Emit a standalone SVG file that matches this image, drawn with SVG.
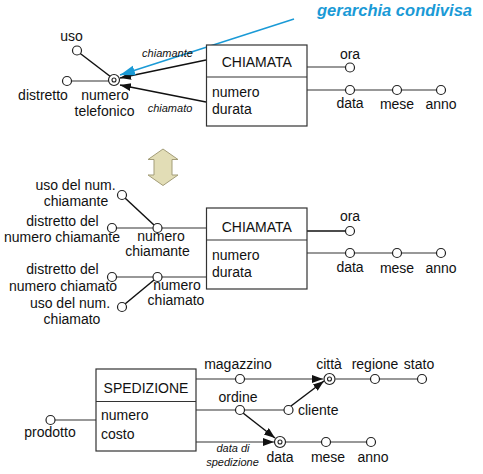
<svg xmlns="http://www.w3.org/2000/svg" width="483" height="474" viewBox="0 0 483 474">
<defs>
<marker id="ah" markerUnits="userSpaceOnUse" markerWidth="12" markerHeight="10" refX="11" refY="4" orient="auto"><path d="M0,0 L11,4 L0,8 Z" fill="#111"/></marker>
<marker id="ahb" markerUnits="userSpaceOnUse" markerWidth="16" markerHeight="12" refX="15" refY="5" orient="auto"><path d="M0,0 L15,5 L0,10 Z" fill="#1a9ad6"/></marker>
<style>
text{font-family:"Liberation Sans",Arial,sans-serif;font-size:14px;fill:#111}
.m{text-anchor:middle}
.i{font-style:italic;font-size:11px}
.b{fill:#fff;stroke:#333;stroke-width:1.2}
.l{stroke:#333;stroke-width:1.2;fill:none}
.k{stroke:#111;stroke-width:1.5;fill:none}
.c{fill:#fff;stroke:#222;stroke-width:1.2}
</style>
</defs>

<g id="connectors">
<!-- top -->
<line class="k" x1="77" y1="51" x2="111" y2="77"/>
<line class="l" x1="71.5" y1="81" x2="108.5" y2="81"/>
<line class="k" x1="206" y1="60" x2="120" y2="78" marker-end="url(#ah)"/>
<line class="k" x1="206" y1="102" x2="120" y2="85" marker-end="url(#ah)"/>
<line x1="294" y1="19" x2="120" y2="75" stroke="#1a9ad6" stroke-width="1.5" marker-end="url(#ahb)"/>
<line class="l" x1="307" y1="67" x2="345.5" y2="67"/>
<line class="l" x1="307" y1="90" x2="436.5" y2="90"/>
<!-- middle -->
<line class="k" x1="125" y1="198" x2="154" y2="225"/>
<line class="l" x1="116.5" y1="228" x2="206" y2="228"/>
<line class="l" x1="116.5" y1="277" x2="206" y2="277"/>
<line class="k" x1="125" y1="304" x2="154" y2="280"/>
<line class="k" x1="307" y1="231" x2="345.5" y2="231"/>
<line class="l" x1="307" y1="253" x2="436.5" y2="253"/>
<!-- bottom -->
<line class="l" x1="54.5" y1="420" x2="96" y2="420"/>
<line class="l" x1="196" y1="379" x2="323" y2="379" marker-end="url(#ah)"/>
<line class="l" x1="335.5" y1="379" x2="417.5" y2="379"/>
<line class="l" x1="196" y1="410" x2="284" y2="410"/>
<line class="k" x1="291" y1="406" x2="324" y2="381" marker-end="url(#ah)"/>
<line class="k" x1="243" y1="413" x2="275" y2="438" marker-end="url(#ah)"/>
<line class="l" x1="196" y1="442" x2="274" y2="442" marker-end="url(#ah)"/>
<line class="l" x1="285.5" y1="442" x2="366.5" y2="442"/>
</g>

<g id="title"><text x="317" y="16" font-weight="bold" font-style="italic" style="font-size:16.5px;fill:#1a9ad6">gerarchia condivisa</text></g>

<g id="chiamata1">
<rect class="b" x="206.5" y="45" width="100.5" height="81"/>
<line class="l" x1="206.5" y1="77" x2="307" y2="77"/>
<text class="m" x="256.8" y="67">CHIAMATA</text>
<text x="212" y="97">numero</text>
<text x="212" y="114">durata</text>
</g>
<g id="uso"><circle class="c" cx="77" cy="50.5" r="4.5"/><text class="m" x="71.5" y="41">uso</text></g>
<g id="distretto"><circle class="c" cx="67" cy="81" r="4.5"/><text class="m" x="43" y="100">distretto</text></g>
<g id="numtel"><circle class="c" cx="114" cy="80" r="5.5"/><circle cx="114" cy="80" r="2" fill="none" stroke="#222" stroke-width="1.1"/><text class="m" x="105" y="100">numero</text><text class="m" x="104.5" y="116">telefonico</text></g>
<g id="lab1"><text class="m i" x="167.5" y="57">chiamante</text><text class="m i" x="170" y="111.5">chiamato</text></g>
<g id="ora1"><circle class="c" cx="350" cy="67.5" r="4.5"/><text class="m" x="350" y="58.5">ora</text></g>
<g id="data1"><circle class="c" cx="350" cy="90" r="4.5"/><text class="m" x="350" y="108">data</text></g>
<g id="mese1"><circle class="c" cx="397" cy="90" r="4.5"/><text class="m" x="397" y="109">mese</text></g>
<g id="anno1"><circle class="c" cx="441" cy="90" r="4.5"/><text class="m" x="441" y="109">anno</text></g>

<g id="dblarrow"><path d="M163,149 L178,159.5 L172,159.5 L172,175 L178,175 L163,185.5 L148,175 L154,175 L154,159.5 L148,159.5 Z" fill="#e2ddb6" stroke="#a39d78" stroke-width="1"/></g>

<g id="chiamata2">
<rect class="b" x="206.5" y="208" width="100.5" height="81"/>
<line class="l" x1="206.5" y1="240" x2="307" y2="240"/>
<text class="m" x="256.8" y="232">CHIAMATA</text>
<text x="212" y="260">numero</text>
<text x="212" y="277">durata</text>
</g>
<g id="usochiamante"><circle class="c" cx="122" cy="195" r="4.5"/><text class="m" x="75.5" y="190">uso del num.</text><text class="m" x="76" y="206">chiamante</text></g>
<g id="distrchiamante"><circle class="c" cx="112" cy="228" r="4.5"/><text class="m" x="62.5" y="226">distretto del</text><text class="m" x="62" y="242">numero chiamante</text></g>
<g id="numchiamante"><circle class="c" cx="157.5" cy="228" r="4.5"/><text class="m" x="161" y="241">numero</text><text class="m" x="157.5" y="256">chiamante</text></g>
<g id="distrchiamato"><circle class="c" cx="112" cy="277" r="4.5"/><text class="m" x="62.5" y="274">distretto del</text><text class="m" x="63" y="291">numero chiamato</text></g>
<g id="numchiamato"><circle class="c" cx="157.5" cy="277" r="4.5"/><text class="m" x="177" y="290">numero</text><text class="m" x="176" y="305">chiamato</text></g>
<g id="usochiamato"><circle class="c" cx="122" cy="307" r="4.5"/><text class="m" x="70" y="308">uso del num.</text><text class="m" x="72" y="324">chiamato</text></g>
<g id="ora2"><circle class="c" cx="350" cy="231" r="4.5"/><text class="m" x="350" y="221">ora</text></g>
<g id="data2"><circle class="c" cx="350" cy="253" r="4.5"/><text class="m" x="350" y="271.5">data</text></g>
<g id="mese2"><circle class="c" cx="397" cy="253" r="4.5"/><text class="m" x="397" y="272.5">mese</text></g>
<g id="anno2"><circle class="c" cx="441" cy="253" r="4.5"/><text class="m" x="441" y="272.5">anno</text></g>

<g id="spedizione">
<rect class="b" x="96" y="369" width="100" height="82"/>
<line class="l" x1="96" y1="401.5" x2="196" y2="401.5"/>
<text class="m" x="146" y="393">SPEDIZIONE</text>
<text x="101" y="420">numero</text>
<text x="101" y="439">costo</text>
</g>
<g id="prodotto"><circle class="c" cx="50.5" cy="420" r="4.5"/><text class="m" x="50" y="437">prodotto</text></g>
<g id="magazzino"><circle class="c" cx="240" cy="379" r="4.5"/><text class="m" x="238" y="369">magazzino</text></g>
<g id="citta"><circle class="c" cx="329.5" cy="379" r="5.5"/><circle cx="329.5" cy="379" r="2" fill="none" stroke="#222" stroke-width="1.1"/><text class="m" x="329" y="369">città</text></g>
<g id="regione"><circle class="c" cx="375" cy="379" r="4.5"/><text class="m" x="375" y="369">regione</text></g>
<g id="stato"><circle class="c" cx="422" cy="379" r="4.5"/><text class="m" x="419" y="369">stato</text></g>
<g id="ordine"><circle class="c" cx="240" cy="410" r="4.5"/><text class="m" x="238" y="402">ordine</text></g>
<g id="cliente"><circle class="c" cx="288.5" cy="410" r="4.5"/><text x="298" y="415">cliente</text></g>
<g id="data3"><circle class="c" cx="280" cy="442" r="5.5"/><circle cx="280" cy="442" r="2" fill="none" stroke="#222" stroke-width="1.1"/><text class="m" x="280" y="462">data</text></g>
<g id="mese3"><circle class="c" cx="326" cy="442" r="4.5"/><text class="m" x="328" y="462">mese</text></g>
<g id="anno3"><circle class="c" cx="371" cy="442" r="4.5"/><text class="m" x="373" y="462">anno</text></g>
<g id="lab3"><text class="m i" x="233" y="452">data di</text><text class="m i" x="232.5" y="466">spedizione</text></g>
</svg>
